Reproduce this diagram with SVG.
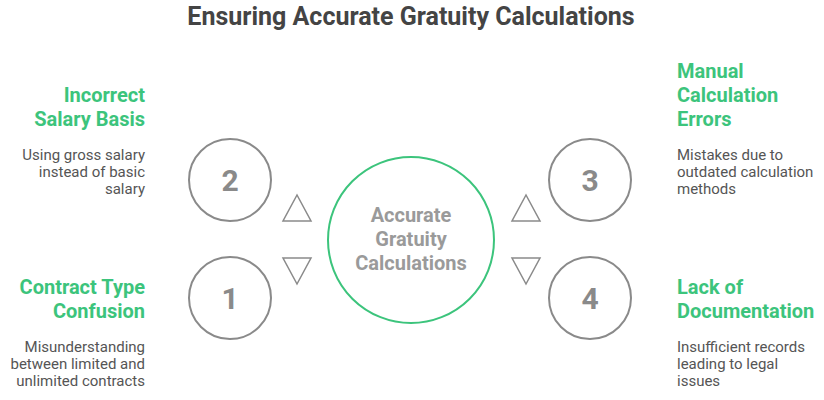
<svg xmlns="http://www.w3.org/2000/svg" width="824" height="400" viewBox="0 0 824 400">
<style>
.t{font-family:Roboto,"Liberation Sans",sans-serif}
.h{font-size:20px;font-weight:bold;fill:#3cc47c}
.d{font-size:15px;fill:#555}
.n{font-size:30px;font-weight:bold;fill:#8a8a8a}
.c{fill:none;stroke:#8a8a8a;stroke-width:2}
.tr{fill:none;stroke:#8a8a8a;stroke-width:1.5}
</style>
<rect width="824" height="400" fill="#fff"/>
<text class="t" x="411" y="25" text-anchor="middle" font-size="25" font-weight="bold" fill="#444">Ensuring Accurate Gratuity Calculations</text>
<g id="center"><circle cx="411" cy="240" r="83" fill="none" stroke="#3cc47c" stroke-width="2"/>
<text class="t" text-anchor="middle" font-size="20" font-weight="bold" fill="#9a9a9a"><tspan x="411" y="222">Accurate</tspan><tspan x="411" y="246">Gratuity</tspan><tspan x="411" y="270">Calculations</tspan></text></g>
<g id="connectors">
<path class="tr" d="M283,221 L311,221 L297,195 Z"/>
<path class="tr" d="M283,258 L311,258 L297,284 Z"/>
<path class="tr" d="M512,221 L540,221 L526,195 Z"/>
<path class="tr" d="M512,258 L540,258 L526,284 Z"/>
</g>
<g id="n2"><circle class="c" cx="230" cy="180" r="41"/><text class="t n" x="230" y="191" text-anchor="middle">2</text>
<text class="t h" text-anchor="end"><tspan x="145" y="102">Incorrect</tspan><tspan x="145" y="126">Salary Basis</tspan></text>
<text class="t d" text-anchor="end"><tspan x="145" y="160">Using gross salary</tspan><tspan x="145" y="177">instead of basic</tspan><tspan x="145" y="194">salary</tspan></text></g>
<g id="n1"><circle class="c" cx="230" cy="298" r="41"/><text class="t n" x="230" y="309" text-anchor="middle">1</text>
<text class="t h" text-anchor="end"><tspan x="145" y="294">Contract Type</tspan><tspan x="145" y="318">Confusion</tspan></text>
<text class="t d" text-anchor="end"><tspan x="145" y="352">Misunderstanding</tspan><tspan x="145" y="369">between limited and</tspan><tspan x="145" y="386">unlimited contracts</tspan></text></g>
<g id="n3"><circle class="c" cx="590" cy="180" r="41"/><text class="t n" x="590" y="191" text-anchor="middle">3</text>
<text class="t h"><tspan x="677" y="78">Manual</tspan><tspan x="677" y="102">Calculation</tspan><tspan x="677" y="126">Errors</tspan></text>
<text class="t d"><tspan x="677" y="160">Mistakes due to</tspan><tspan x="677" y="177">outdated calculation</tspan><tspan x="677" y="194">methods</tspan></text></g>
<g id="n4"><circle class="c" cx="590" cy="298" r="41"/><text class="t n" x="590" y="309" text-anchor="middle">4</text>
<text class="t h"><tspan x="677" y="294">Lack of</tspan><tspan x="677" y="318">Documentation</tspan></text>
<text class="t d"><tspan x="677" y="352">Insufficient records</tspan><tspan x="677" y="369">leading to legal</tspan><tspan x="677" y="386">issues</tspan></text></g>
</svg>
